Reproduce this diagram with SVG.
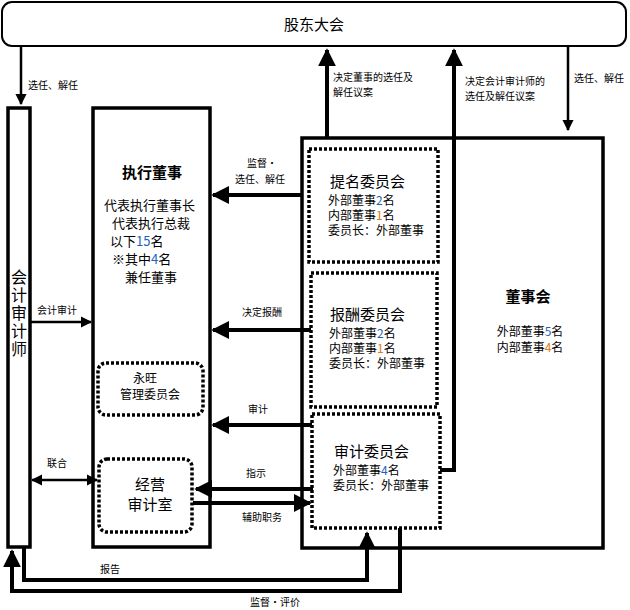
<svg xmlns="http://www.w3.org/2000/svg" width="630" height="610" viewBox="0 0 630 610">
<style>
text{font-family:"Noto Sans CJK SC","Liberation Sans",sans-serif;fill:#000}
.box{fill:#fff;stroke:#000;stroke-width:3.5}
.dot{fill:#fff;stroke:#000;stroke-width:3.5;stroke-dasharray:3,2}
.ln{fill:none;stroke:#000;stroke-width:4}
.th{fill:none;stroke:#000;stroke-width:2.5}
.s{font-size:10px}
.m{font-size:13px}
.c{font-size:12px}
.b{font-size:15px}
.n{fill:#1f5fbf}
.o{fill:#e07a10}
</style>
<defs>
<marker id="ah" viewBox="0 0 10 10" refX="9" refY="5" markerWidth="4.5" markerHeight="4.5" orient="auto-start-reverse" markerUnits="strokeWidth"><path d="M0,0L10,5L0,10z" fill="#000"/></marker>
</defs>
<g id="shareholders"><rect x="2" y="2" width="624" height="44" rx="10" fill="#fff" stroke="#000" stroke-width="2"/><text x="314" y="30" text-anchor="middle" class="b">股东大会</text></g>
<g id="auditor"><rect class="box" x="8" y="108" width="22" height="439"/><text x="19" y="283" text-anchor="middle" font-size="16"><tspan x="19">会</tspan><tspan x="19" dy="18">计</tspan><tspan x="19" dy="18">审</tspan><tspan x="19" dy="18">计</tspan><tspan x="19" dy="18">师</tspan></text></g>
<g id="exec"><rect class="box" x="93" y="108" width="117" height="439"/>
<text x="152" y="178" text-anchor="middle" font-size="15" font-weight="bold">执行董事</text>
<text class="m" x="104" y="210">代表执行董事长</text>
<text class="m" x="112" y="228">代表执行总裁</text>
<text class="m" x="110" y="246">以下<tspan class="n">15</tspan>名</text>
<text class="m" x="112" y="264">※其中<tspan class="n">4</tspan>名</text>
<text class="m" x="125" y="282">兼任董事</text></g>
<g id="aeon"><rect class="dot" x="98" y="363" width="105" height="52" rx="8"/><text x="145" y="383" text-anchor="middle" font-size="12">永旺</text><text x="150" y="399" text-anchor="middle" font-size="12">管理委员会</text></g>
<g id="internalaudit"><rect class="dot" x="99" y="459" width="93" height="73" rx="8"/><text x="150" y="490" text-anchor="middle" class="b">经营</text><text x="150" y="510" text-anchor="middle" class="b">审计室</text></g>
<g id="board"><rect class="box" x="302" y="138" width="301" height="410"/><text x="528" y="302" text-anchor="middle" font-size="15" font-weight="bold">董事会</text><text class="c" x="530" y="336" text-anchor="middle">外部董事<tspan class="n">5</tspan>名</text><text class="c" x="530" y="352" text-anchor="middle">内部董事<tspan class="o">4</tspan>名</text></g>
<g id="nomination"><rect class="dot" x="309" y="149" width="129" height="113"/><text x="330" y="187" class="b">提名委员会</text><text class="c" x="328" y="205">外部董事<tspan class="n">2</tspan>名</text><text class="c" x="328" y="220">内部董事<tspan class="o">1</tspan>名</text><text class="c" x="328" y="235">委员长：外部董事</text></g>
<g id="remuneration"><rect class="dot" x="311" y="273" width="126" height="134"/><text x="330" y="320" class="b">报酬委员会</text><text class="c" x="329" y="338">外部董事<tspan class="n">2</tspan>名</text><text class="c" x="329" y="353">内部董事<tspan class="o">1</tspan>名</text><text class="c" x="329" y="368">委员长：外部董事</text></g>
<g id="auditcommittee"><rect class="dot" x="312" y="414" width="128" height="114"/><text x="334" y="457" class="b">审计委员会</text><text class="c" x="333" y="475">外部董事<tspan class="n">4</tspan>名</text><text class="c" x="333" y="490">委员长：外部董事</text></g>
<g id="connectors">
<line class="th" x1="21" y1="46" x2="21" y2="104" marker-end="url(#ah)"/>
<text class="s" x="28" y="89">选任、解任</text>
<line class="ln" x1="327" y1="138" x2="327" y2="50" marker-end="url(#ah)"/>
<text class="s" x="333" y="81">决定董事的选任及</text><text class="s" x="333" y="96">解任议案</text>
<polyline class="ln" points="440,470 454,470 454,50" marker-end="url(#ah)"/>
<text class="s" x="465" y="85">决定会计审计师的</text><text class="s" x="465" y="100">选任及解任议案</text>
<line class="th" x1="568" y1="46" x2="568" y2="130" marker-end="url(#ah)"/>
<text class="s" x="574" y="82">选任、解任</text>
<line class="ln" x1="302" y1="195" x2="213" y2="195" marker-end="url(#ah)"/>
<text class="s" x="262" y="167" text-anchor="middle">监督・</text><text class="s" x="260" y="183" text-anchor="middle">选任、解任</text>
<line class="ln" x1="311" y1="330" x2="213" y2="330" marker-end="url(#ah)"/>
<text class="s" x="262" y="316" text-anchor="middle">决定报酬</text>
<line class="ln" x1="312" y1="425" x2="213" y2="425" marker-end="url(#ah)"/>
<text class="s" x="258" y="413" text-anchor="middle">审计</text>
<line class="th" x1="30" y1="322" x2="91" y2="322" marker-end="url(#ah)"/>
<text class="s" x="57" y="314" text-anchor="middle">会计审计</text>
<line class="th" x1="32" y1="480" x2="97" y2="480" marker-start="url(#ah)" marker-end="url(#ah)"/>
<text class="s" x="57" y="467" text-anchor="middle">联合</text>
<line class="ln" x1="313" y1="489" x2="196" y2="489" marker-end="url(#ah)"/>
<text class="s" x="256" y="477" text-anchor="middle">指示</text>
<line class="ln" x1="193" y1="503" x2="310" y2="503" marker-end="url(#ah)"/>
<text class="s" x="262" y="521" text-anchor="middle">辅助职务</text>
<polyline class="ln" points="24,548 24,580 367,580 367,533" marker-end="url(#ah)"/>
<text class="s" x="110" y="573" text-anchor="middle">报告</text>
<polyline class="ln" points="400,528 400,591 12,591 12,551" marker-end="url(#ah)"/>
<text class="s" x="275" y="606" text-anchor="middle">监督・评价</text>
</g>
</svg>
